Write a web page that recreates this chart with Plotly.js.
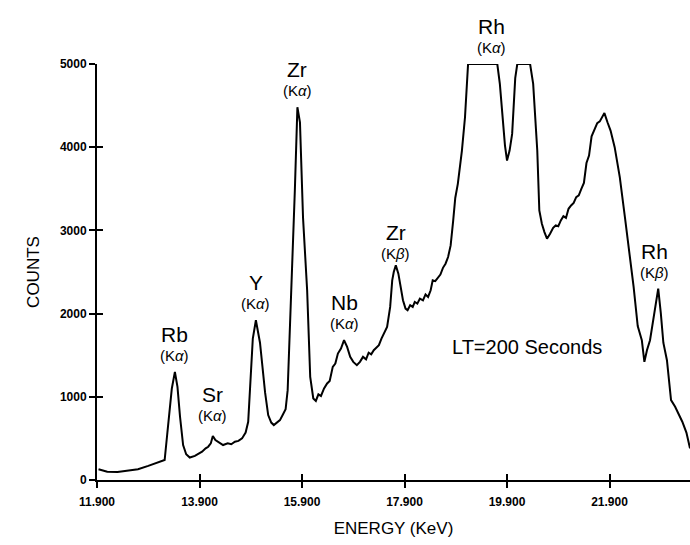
<!DOCTYPE html>
<html>
<head>
<meta charset="utf-8">
<script src="https://cdn.plot.ly/plotly-3.0.1.min.js"></script>
<style>html,body{margin:0;padding:0;background:#fff;}#chart{width:690px;height:545px;}</style>
</head>
<body>
<div id="chart"></div>
<script>
// Energy (keV) and counts
const energy = [11.93, 12.10, 12.30, 12.50, 12.70, 12.90, 13.05, 13.15, 13.22, 13.27, 13.32, 13.36, 13.42, 13.47, 13.52, 13.58, 13.64, 13.71, 13.81, 13.90, 13.95, 14.02, 14.07, 14.12, 14.16, 14.21, 14.26, 14.36, 14.45, 14.52, 14.59, 14.66, 14.73, 14.80, 14.85, 14.89, 14.94, 15.00, 15.04, 15.08, 15.13, 15.18, 15.24, 15.30, 15.35, 15.41, 15.47, 15.53, 15.58, 15.62, 15.67, 15.72, 15.76, 15.81, 15.86, 15.92, 16.00, 16.06, 16.12, 16.17, 16.22, 16.27, 16.33, 16.39, 16.44, 16.50, 16.55, 16.60, 16.66, 16.72, 16.78, 16.84, 16.90, 16.97, 17.03, 17.09, 17.15, 17.20, 17.25, 17.30, 17.35, 17.40, 17.45, 17.50, 17.56, 17.62, 17.66, 17.69, 17.73, 17.78, 17.82, 17.87, 17.92, 17.96, 18.01, 18.06, 18.10, 18.15, 18.20, 18.26, 18.31, 18.36, 18.41, 18.45, 18.50, 18.55, 18.60, 18.65, 18.70, 18.75, 18.80, 18.85, 18.89, 18.94, 18.98, 19.02, 19.08, 19.14, 19.40, 19.71, 19.76, 19.82, 19.86, 19.90, 19.95, 20.00, 20.06, 20.10, 20.35, 20.41, 20.46, 20.49, 20.53, 20.58, 20.63, 20.68, 20.74, 20.80, 20.85, 20.90, 20.95, 21.00, 21.05, 21.10, 21.15, 21.20, 21.25, 21.30, 21.35, 21.40, 21.45, 21.50, 21.55, 21.60, 21.66, 21.71, 21.75, 21.80, 21.86, 21.92, 22.00, 22.10, 22.20, 22.30, 22.37, 22.45, 22.53, 22.58, 22.63, 22.69, 22.77, 22.85, 22.90, 22.95, 23.02, 23.10, 23.18, 23.25, 23.32, 23.40, 23.47];
const counts = [130, 100, 95, 110, 130, 170, 200, 220, 240, 550, 900, 1100, 1300, 1120, 760, 420, 310, 270, 290, 320, 340, 380, 400, 440, 530, 480, 460, 420, 440, 430, 460, 470, 500, 570, 700, 1150, 1700, 1920, 1780, 1650, 1350, 1050, 780, 690, 660, 690, 720, 790, 850, 1080, 1880, 2880, 3480, 4480, 4300, 3150, 2280, 1240, 980, 950, 1030, 1010, 1100, 1160, 1190, 1360, 1400, 1520, 1580, 1680, 1600, 1480, 1420, 1380, 1420, 1480, 1450, 1530, 1510, 1560, 1590, 1620, 1700, 1770, 1840, 2080, 2400, 2500, 2580, 2480, 2350, 2160, 2060, 2040, 2100, 2080, 2140, 2120, 2180, 2160, 2230, 2200, 2280, 2400, 2390, 2430, 2470, 2550, 2600, 2680, 2820, 3120, 3390, 3560, 3750, 3960, 4360, 5000, 5000, 5000, 4760, 4280, 4020, 3840, 3960, 4160, 4830, 5000, 5000, 4760, 4300, 3960, 3240, 3080, 2980, 2900, 2960, 3030, 3060, 3050, 3120, 3170, 3150, 3260, 3300, 3330, 3400, 3420, 3500, 3570, 3810, 3900, 4130, 4200, 4290, 4310, 4350, 4410, 4300, 4200, 4000, 3640, 3160, 2680, 2320, 1850, 1680, 1420, 1560, 1680, 2010, 2300, 2010, 1650, 1440, 960, 880, 790, 700, 570, 380, 200];

const xTicks = [11.9, 13.9, 15.9, 17.9, 19.9, 21.9];
const yTicks = [0, 1000, 2000, 3000, 4000, 5000];

// Peak labels: element, line, label anchor (keV, counts)
const labelElems = ['Rb', 'Sr', 'Y', 'Zr', 'Nb', 'Zr', 'Rh', 'Rh'];
const labelLines = ['α', 'α', 'α', 'α', 'α', 'β', 'α', 'β'];
const labelX = [13.42, 14.16, 15.00, 15.81, 16.72, 17.73, 19.60, 22.77];
const labelY = [1300, 580, 1920, 4480, 1680, 2520, 5000, 2300];
const noteText = 'LT=200 Seconds';

const FONT = 'Liberation Sans, Arial, sans-serif';

const annotations = [];
for (let i = 0; i < labelElems.length; i++) {
  annotations.push({
    x: labelX[i], y: labelY[i], xref: 'x', yref: 'y',
    text: '(K<i>' + labelLines[i] + '</i>)',
    showarrow: false, yanchor: 'bottom', yshift: 6,
    font: {family: FONT, size: 15, color: '#000'}
  });
  annotations.push({
    x: labelX[i], y: labelY[i], xref: 'x', yref: 'y',
    text: labelElems[i],
    showarrow: false, yanchor: 'bottom', yshift: 24,
    font: {family: FONT, size: 21, color: '#000'}
  });
}
annotations.push({
  x: 20.29, y: 1600, xref: 'x', yref: 'y', text: noteText, showarrow: false,
  font: {family: FONT, size: 20, color: '#000'}
});

const traces = [
  {x: energy, y: counts, type: 'scatter', mode: 'lines',
   line: {color: '#000', width: 2}, cliponaxis: false, hoverinfo: 'skip'},
  {x: [], y: [], xaxis: 'x2', yaxis: 'y2', type: 'scatter', mode: 'lines', hoverinfo: 'skip'}
];

const axBase = {showgrid: false, zeroline: false, linecolor: '#000', linewidth: 2,
  tickcolor: '#000', tickwidth: 2, ticklen: 6, fixedrange: true};

const layout = {
  width: 690, height: 545,
  margin: {l: 97, r: 0, t: 64, b: 65, pad: 0},
  paper_bgcolor: '#fff', plot_bgcolor: '#fff',
  showlegend: false,
  xaxis: Object.assign({}, axBase, {
    range: [11.9, 23.47], tickvals: xTicks, tickformat: '.3f', ticks: 'outside',
    showline: true, ticklabelstandoff: 4,
    tickfont: {family: FONT, size: 12, color: '#000', weight: 'bold'},
    title: {text: 'ENERGY (KeV)', standoff: 14, font: {family: FONT, size: 17, color: '#000'}}
  }),
  yaxis: Object.assign({}, axBase, {
    range: [0, 5000], tickvals: yTicks, ticks: 'outside', showline: true,
    tickfont: {family: FONT, size: 12, color: '#000', weight: 'bold'},
    title: {text: 'COUNTS', standoff: 16, font: {family: FONT, size: 17, color: '#000'}}
  }),
  xaxis2: Object.assign({}, axBase, {
    range: [11.9, 23.47], tickvals: xTicks, ticks: 'inside', overlaying: 'x',
    anchor: 'y2', showline: false, showticklabels: false
  }),
  yaxis2: Object.assign({}, axBase, {
    range: [0, 5000], tickvals: yTicks, ticks: 'inside', overlaying: 'y',
    anchor: 'x2', showline: false, showticklabels: false
  }),
  annotations: annotations
};

Plotly.newPlot('chart', traces, layout, {displayModeBar: false, staticPlot: true});
</script>
</body>
</html>
